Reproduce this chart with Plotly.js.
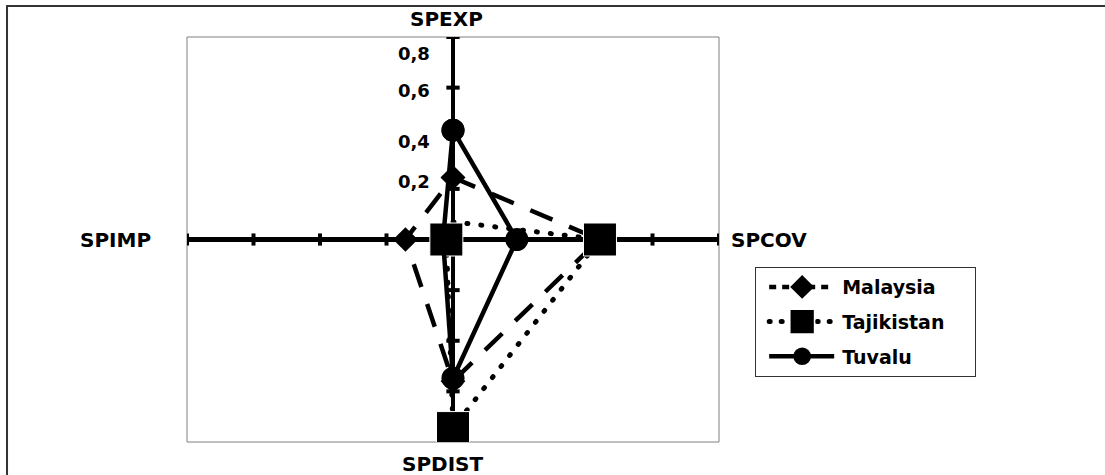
<!DOCTYPE html>
<html>
<head>
<meta charset="utf-8">
<script src="https://cdn.plot.ly/plotly-3.0.1.min.js"></script>
<style>
  html, body { margin: 0; padding: 0; background: #fff; }
  #chart { width: 1105px; height: 475px; }
</style>
</head>
<body>
<div id="chart"></div>
<script>
// ---- data ----
const categories = ['SPEXP', 'SPCOV', 'SPDIST', 'SPIMP'];
const malaysia   = [0.245, 0.44, 0.56, 0.143];
const tajikistan = [0.07, 0.442, 0.745, 0.02];
const tuvalu     = [0.432, 0.192, 0.548, 0.03];
const tickVals   = [0.2, 0.4, 0.6, 0.8];
const tickText   = ['0,2', '0,4', '0,6', '0,8'];
const axisMax    = 0.8;

// radar directions (clockwise from top)
const dirX = [0, 1, 0, -1];
const dirY = [1, 0, -1, 0];

function toXY(vals) {
  const xs = [], ys = [];
  for (let i = 0; i <= vals.length; i++) {
    const k = i % vals.length;
    xs.push(vals[k] * dirX[k]);
    ys.push(vals[k] * dirY[k]);
  }
  return { xs, ys };
}

const FONT = 'DejaVu Sans';
const m = toXY(malaysia), t = toXY(tajikistan), v = toXY(tuvalu);
const closedCats = categories.concat(categories[0]);

const traces = [
  { x: m.xs, y: m.ys, name: 'Malaysia', mode: 'lines+markers',
    legendgroup: 'a', text: closedCats,
    line: { color: '#000', width: 4.5, dash: '24px,18px' },
    marker: { symbol: 'diamond', size: 19, color: '#000', opacity: 1 } },
  { x: t.xs, y: t.ys, name: 'Tajikistan', mode: 'lines+markers',
    legendgroup: 'b', text: closedCats,
    line: { color: '#000', width: 5, dash: '1px,13px' },
    // the SPEXP marker is not shown in the original figure
    marker: { symbol: 'square', size: [0, 33, 33, 33, 0], color: '#000', opacity: 1 } },
  { x: v.xs, y: v.ys, name: 'Tuvalu', mode: 'lines+markers',
    legendgroup: 'c', text: closedCats,
    line: { color: '#000', width: 4.5 },
    marker: { symbol: 'circle', size: 23, color: '#000', opacity: 1 } }
];

// tick marks on the four spokes
const shapes = [];
const tH = 0.024, tV = 0.02;
tickVals.forEach(val => {
  [1, -1].forEach(s => {
    shapes.push({ type: 'line', xref: 'x', yref: 'y', x0: s * val, x1: s * val, y0: -tH, y1: tH,
      line: { color: '#000', width: 4 }, layer: 'below' });
    shapes.push({ type: 'line', xref: 'x', yref: 'y', y0: s * val, y1: s * val, x0: -tV, x1: tV,
      line: { color: '#000', width: 4 }, layer: 'below' });
  });
});
// plot area frame
shapes.push({ type: 'rect', xref: 'paper', yref: 'paper', x0: 0, x1: 1, y0: 0, y1: 1,
  line: { color: '#808080', width: 1 }, layer: 'below' });
// chart area frame
shapes.push({ type: 'rect', xref: 'paper', yref: 'paper', x0: -0.3383, x1: 2, y0: -0.5, y1: 1.0765,
  line: { color: '#333', width: 2 }, layer: 'below' });

const tickShift = [7, -3, -3, -16];
const annotations = tickVals.map((val, i) => ({
  x: 0, y: val, xref: 'x', yref: 'y', text: tickText[i], showarrow: false,
  xanchor: 'right', yanchor: 'middle', xshift: -21, yshift: tickShift[i],
  font: { family: FONT, size: 18, color: '#000', weight: 'bold' }
}));
const nameFont = { family: FONT, size: 20, color: '#000', weight: 'bold' };
annotations.push({ x: 0, y: axisMax, xref: 'x', yref: 'y', text: categories[0], showarrow: false,
  xanchor: 'center', yanchor: 'middle', yshift: 18, xshift: -7, font: nameFont });
annotations.push({ x: axisMax, y: 0, xref: 'x', yref: 'y', text: categories[1], showarrow: false,
  xanchor: 'left', yanchor: 'middle', xshift: 10, font: nameFont });
annotations.push({ x: 0, y: -axisMax, xref: 'x', yref: 'y', text: categories[2], showarrow: false,
  xanchor: 'center', yanchor: 'middle', yshift: -22, xshift: -10, font: nameFont });
annotations.push({ x: -axisMax, y: 0, xref: 'x', yref: 'y', text: categories[3], showarrow: false,
  xanchor: 'right', yanchor: 'middle', xshift: -34, font: nameFont });

const axisCommon = {
  range: [-axisMax, axisMax], showgrid: false, zeroline: true, zerolinecolor: '#000',
  zerolinewidth: 4.5, showticklabels: false, ticks: '', showline: false, fixedrange: true
};

const layout = {
  width: 1105, height: 475,
  margin: { l: 187, r: 386, t: 37, b: 33, pad: 0 },
  paper_bgcolor: '#fff', plot_bgcolor: '#fff',
  xaxis: axisCommon, yaxis: Object.assign({}, axisCommon),
  showlegend: true,
  legend: {
    x: 1.068, y: 0.432, xanchor: 'left', yanchor: 'top',
    bordercolor: '#333', borderwidth: 1, bgcolor: '#fff',
    font: { family: FONT, size: 19, color: '#000', weight: 'bold' },
    traceorder: 'grouped', tracegroupgap: 7, itemwidth: 76
  },
  shapes, annotations
};

// legend sample styling (longer samples, Excel-like patterns)
const legendDash  = ['7px,6px', '1px,11px', ''];
const legendScale = [1.15, 1.55, 1.1];
const legendBoxWidth = 220;

Plotly.newPlot('chart', traces, layout, { staticPlot: true }).then(gd => {
  const tr = gd.querySelectorAll('.scatterlayer .trace');
  if (tr[1]) tr[1].querySelectorAll('path.js-line').forEach(p => { p.style.strokeLinecap = 'round'; });
  const items = gd.querySelectorAll('.legend .traces');
  items.forEach((it, i) => {
    it.querySelectorAll('path.js-line').forEach(p => {
      p.setAttribute('d', 'M13,0h65');
      if (legendDash[i]) p.style.strokeDasharray = legendDash[i];
      if (i === 1) p.style.strokeLinecap = 'round';
    });
    it.querySelectorAll('path.scatterpts').forEach(p => {
      p.setAttribute('transform', 'translate(46,0) scale(' + legendScale[i] + ')');
    });
  });
  const bg = gd.querySelector('.legend rect.bg');
  if (bg) bg.setAttribute('width', legendBoxWidth);
});
</script>
</body>
</html>
